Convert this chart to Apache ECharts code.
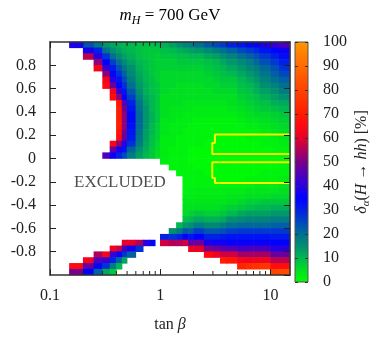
<!DOCTYPE html>
<html>
<head>
<meta charset="utf-8">
<script src="https://cdn.jsdelivr.net/npm/echarts@6/dist/echarts.min.js"></script>
<style>html,body{margin:0;padding:0;background:#fff}#chart{width:376px;height:338px}</style>
</head>
<body>
<div id="chart"></div>
<script>
const _ = null;
// cell edges: tan(beta) columns (log axis) and cos(beta-alpha) rows (top to bottom)
const tanbEdges = [0.15, 0.2, 0.25, 0.3, 0.35, 0.4, 0.45, 0.5, 0.6, 0.7, 0.8, 0.9, 1.0, 1.2, 1.4, 1.6, 1.8, 2.0, 2.5, 3.0, 3.5, 4.0, 5.0, 6.0, 7.0, 8.0, 10, 12, 15];
const cosEdges = [1, 0.95, 0.9, 0.85, 0.8, 0.75, 0.7, 0.65, 0.6, 0.55, 0.5, 0.45, 0.4, 0.35, 0.3, 0.25, 0.2, 0.15, 0.1, 0.05, 0,
  -0.05, -0.1, -0.15, -0.2, -0.25, -0.3, -0.35, -0.4, -0.45, -0.5, -0.55, -0.6, -0.65, -0.7, -0.75, -0.8, -0.85, -0.9, -0.95, -1];

// delta_alpha(H -> hh) in %, one row per cos band, null = excluded
const delta = [
  [38,24,19,14,12,11,10,10,9,9,9,10,11,13,15,17,18,20,23,25,27,30,32,34,36,39,42,45],
  [_,38,30,20,15,13,11,10,9,8,8,8,9,10,11,12,13,14,16,18,20,22,25,27,29,32,34,37],
  [_,56,40,28,20,16,13,11,9,8,8,7,8,8,9,9,10,10,12,13,15,17,20,22,24,27,30,33],
  [_,_,52,35,26,20,16,13,10,9,8,7,7,7,8,8,8,8,9,10,12,14,16,18,21,24,27,30],
  [_,_,63,42,31,24,19,15,11,9,8,7,7,7,7,7,7,7,8,9,10,12,14,16,18,21,24,28],
  [_,_,_,52,34,28,22,16,12,10,8,7,6,6,6,6,6,6,7,8,9,10,12,14,16,19,22,25],
  [_,_,_,63,40,32,25,18,13,10,9,7,6,6,6,6,6,6,6,7,8,8,10,12,14,17,20,22],
  [_,_,_,65,48,35,28,20,14,11,9,8,6,6,5,5,5,5,6,6,7,7,9,10,12,15,17,20],
  [_,_,_,_,62,42,32,23,15,11,9,8,6,5,5,5,5,5,5,6,6,6,8,9,11,13,15,18],
  [_,_,_,_,65,52,36,26,17,12,10,8,5,5,5,5,5,5,5,5,5,5,7,8,9,11,13,15],
  [_,_,_,_,_,68,45,30,19,13,10,8,5,5,5,4,4,4,4,4,4,5,6,7,8,9,11,12],
  [_,_,_,_,_,70,50,32,20,14,10,8,5,4,4,4,4,3,3,3,3,4,5,6,7,8,9,10],
  [_,_,_,_,_,70,52,34,21,14,11,8,5,4,4,3,3,3,3,3,3,3,4,5,6,6,7,8],
  [_,_,_,_,_,70,52,34,21,14,11,8,4,4,3,3,3,2,2,2,2,2,3,4,4,5,6,7],
  [_,_,_,_,_,70,52,33,21,14,10,7,4,3,3,3,2,2,2,2,2,2,2,3,3,4,5,6],
  [_,_,_,_,_,68,50,32,20,13,10,7,4,3,3,2,2,2,2,2,2,2,2,2,2,3,4,5],
  [_,_,_,_,_,66,48,31,19,13,9,7,3,3,2,2,2,2,2,1,1,1,1,2,2,2,3,4],
  [_,_,_,_,64,52,40,28,18,12,9,6,3,3,2,2,2,2,1,1,1,1,1,1,1,2,2,3],
  [_,_,_,_,48,38,32,22,15,11,8,6,3,2,2,2,1,1,1,1,1,1,1,1,1,1,2,2],
  [_,_,_,45,36,30,25,18,13,10,8,5,3,2,2,2,1,1,1,1,1,1,1,1,1,1,1,1],
  [_,_,_,_,_,_,_,_,_,_,_,_,3,2,2,2,1,1,1,1,1,1,1,1,1,1,1,1],
  [_,_,_,_,_,_,_,_,_,_,_,_,_,2,2,2,2,1,1,1,1,1,1,1,1,1,1,2],
  [_,_,_,_,_,_,_,_,_,_,_,_,_,_,2,2,2,2,1,1,1,1,1,1,1,2,2,2],
  [_,_,_,_,_,_,_,_,_,_,_,_,_,_,_,2,2,2,2,1,1,1,1,2,2,2,2,3],
  [_,_,_,_,_,_,_,_,_,_,_,_,_,_,_,2,2,2,2,2,2,2,2,2,3,3,3,4],
  [_,_,_,_,_,_,_,_,_,_,_,_,_,_,_,2,3,3,3,3,3,3,3,4,4,4,4,5],
  [_,_,_,_,_,_,_,_,_,_,_,_,_,_,_,3,3,3,3,3,3,4,4,5,5,5,6,6],
  [_,_,_,_,_,_,_,_,_,_,_,_,_,_,_,4,4,4,4,4,4,5,6,7,7,8,8,8],
  [_,_,_,_,_,_,_,_,_,_,_,_,_,_,_,5,5,5,5,5,6,7,8,9,10,10,11,11],
  [_,_,_,_,_,_,_,_,_,_,_,_,_,_,_,6,7,8,7,7,8,10,12,13,13,13,14,14],
  [_,_,_,_,_,_,_,_,_,_,_,_,_,_,_,9,10,12,11,11,12,15,16,17,17,17,18,18],
  [_,_,_,_,_,_,_,_,_,_,_,_,_,_,10,14,15,18,16,16,18,20,21,21,21,21,22,22],
  [_,_,_,_,_,_,_,_,_,_,_,_,_,15,18,23,22,26,23,23,24,26,27,27,27,27,27,27],
  [_,_,_,_,_,_,_,_,_,_,_,_,30,28,30,36,32,35,30,30,31,32,32,32,32,32,31,31],
  [_,_,_,_,_,_,60,60,55,40,34,_,58,55,55,58,46,48,38,37,37,36,36,36,36,36,35,35],
  [_,_,_,_,62,58,44,38,28,_,_,_,_,_,_,_,62,60,50,48,46,45,43,44,44,44,40,40],
  [_,_,55,63,42,36,28,22,_,_,_,_,_,_,_,_,_,_,65,62,58,58,54,54,54,54,48,48],
  [_,63,45,42,30,22,12,_,_,_,_,_,_,_,_,_,_,_,_,_,70,68,63,62,62,62,56,56],
  [65,48,34,28,18,10,_,_,_,_,_,_,_,_,_,_,_,_,_,_,_,_,72,74,75,76,66,66],
  [50,35,22,12,8,_,_,_,_,_,_,_,_,_,_,_,_,_,_,_,_,_,_,_,_,_,80,82]
];

// yellow contours (tan beta, cos)
const upperContourT = [15, 3.13, 3.13, 2.96, 2.96, 15];
const upperContourC = [0.205, 0.205, 0.133, 0.133, 0.039, 0.039];
const lowerContourT = [15, 2.96, 2.96, 3.13, 3.13, 15];
const lowerContourC = [-0.033, -0.033, -0.168, -0.168, -0.21, -0.21];

const xMajor = [0.1, 1, 10];
const xMinor = [0.2, 0.3, 0.4, 0.5, 0.6, 0.7, 0.8, 0.9, 2, 3, 4, 5, 6, 7, 8, 9];
const excludedAt = [0.43, -0.205];

// colour scale, 0..100 in steps of 5
const palette = ['#00ff00', '#00e020', '#00b850', '#009070', '#007090', '#0048c0', '#0020e8', '#0000ff', '#2800e0',
  '#5000b8', '#7a008c', '#b0005a', '#e80028', '#ff0810', '#ff1c00', '#ff3000', '#ff4400', '#ff5800', '#ff6c00', '#ff8000', '#ff9600'];

const serif = 'Liberation Serif';
const ink = '#222';

let cells = [];
delta.forEach((row, j) => {
    row.forEach((val, i) => {
        if (val !== _) {
            cells.push([tanbEdges[i], tanbEdges[i + 1], cosEdges[j], cosEdges[j + 1], val]);
        }
    });
});

const zip = (a, b) => a.map((v, i) => [v, b[i]]);

const rich = {
    r: { fontFamily: serif, fontSize: 16, color: ink },
    i: { fontFamily: serif, fontSize: 16, fontStyle: 'italic', color: ink },
    s: { fontFamily: serif, fontSize: 11, fontStyle: 'italic', color: ink, padding: [9, 0, 0, 0] },
};

let chart = echarts.init(document.getElementById('chart'), null, { renderer: 'canvas' });

const barGradient = new echarts.graphic.LinearGradient(0, 1, 0, 0,
    palette.map((c, k) => ({ offset: k / (palette.length - 1), color: c })));

const frameLine = { show: true, onZero: false, lineStyle: { color: '#333', width: 1.5 } };

let option = {
    animation: false,
    grid: [
        { left: 50, top: 42, width: 240, height: 240, show: false },
        { left: 295, top: 42, width: 13, height: 240, show: true, backgroundColor: barGradient, borderColor: '#555', borderWidth: 1 },
    ],
    graphic: [
        {
            type: 'text',
            x: 170,
            y: 5,
            style: {
                text: '{i|m}{s|H}{r| = 700 GeV}',
                align: 'center',
                rich: {
                    r: { fontFamily: serif, fontSize: 17, color: ink },
                    i: { fontFamily: serif, fontSize: 17, fontStyle: 'italic', color: ink },
                    s: { fontFamily: serif, fontSize: 12, fontStyle: 'italic', color: ink, padding: [10, 0, 0, 0] },
                },
            },
        },
    ],
    visualMap: {
        type: 'continuous',
        show: false,
        min: 0,
        max: 100,
        dimension: 4,
        seriesIndex: 0,
        inRange: { color: palette },
    },
    xAxis: [
        {
            gridIndex: 0,
            type: 'log',
            logBase: 10,
            min: 0.1,
            max: 15,
            position: 'bottom',
            z: 10,
            axisLine: frameLine,
            axisTick: { show: true, inside: true, length: 6, customValues: xMajor, lineStyle: { color: ink } },
            axisLabel: { customValues: xMajor, margin: 13, fontFamily: serif, fontSize: 16, color: ink, formatter: (v) => String(v) },
            splitLine: { show: false },
            name: '{r|tan }{i|β}',
            nameLocation: 'middle',
            nameGap: 42,
            nameTextStyle: { rich: rich },
        },
        {
            gridIndex: 0,
            type: 'log',
            logBase: 10,
            min: 0.1,
            max: 15,
            position: 'top',
            z: 10,
            axisLine: frameLine,
            axisTick: { show: true, inside: true, length: 6, customValues: xMajor, lineStyle: { color: ink } },
            axisLabel: { show: false },
            splitLine: { show: false },
        },
        { gridIndex: 1, type: 'value', min: 0, max: 1, show: false },
    ],
    yAxis: [
        {
            gridIndex: 0,
            type: 'value',
            min: -1,
            max: 1,
            interval: 0.2,
            position: 'left',
            z: 10,
            axisLine: frameLine,
            axisTick: { show: true, inside: true, length: 6, lineStyle: { color: ink } },
            axisLabel: { margin: 14, showMinLabel: false, showMaxLabel: false, fontFamily: serif, fontSize: 16, color: ink },
            splitLine: { show: false },
        },
        {
            gridIndex: 0,
            type: 'value',
            min: -1,
            max: 1,
            interval: 0.2,
            position: 'right',
            z: 10,
            axisLine: frameLine,
            axisTick: { show: true, inside: true, length: 6, lineStyle: { color: ink } },
            axisLabel: { show: false },
            splitLine: { show: false },
        },
        {
            gridIndex: 1,
            type: 'value',
            min: 0,
            max: 100,
            interval: 10,
            position: 'right',
            z: 10,
            axisLine: { show: false, onZero: false },
            axisTick: { show: true, inside: true, length: 3, lineStyle: { color: '#333' } },
            axisLabel: { margin: 15, fontFamily: serif, fontSize: 16, color: ink },
            splitLine: { show: false },
            name: '{i|δ}{s|α}{r|(}{i|H}{r| → }{i|hh}{r|) [%]}',
            nameLocation: 'middle',
            nameRotate: 90,
            nameGap: 44,
            nameTextStyle: { rich: rich },
        },
        {
            gridIndex: 1,
            type: 'value',
            min: 0,
            max: 100,
            interval: 10,
            position: 'left',
            z: 10,
            axisLine: { show: false, onZero: false },
            axisTick: { show: true, inside: true, length: 3, lineStyle: { color: '#333' } },
            axisLabel: { show: false },
            splitLine: { show: false },
        },
    ],
    series: [
        {
            type: 'custom',
            name: 'delta',
            xAxisIndex: 0,
            yAxisIndex: 0,
            data: cells,
            encode: { x: [0, 1], y: [2, 3] },
            renderItem: (params, api) => {
                let a = api.coord([api.value(0), api.value(2)]);
                let b = api.coord([api.value(1), api.value(3)]);
                return {
                    type: 'rect',
                    shape: { x: a[0] - 0.3, y: a[1] - 0.3, width: b[0] - a[0] + 0.6, height: b[1] - a[1] + 0.6 },
                    style: { fill: api.visual('color') },
                };
            },
            silent: true,
            z: 2,
        },
        {
            type: 'line',
            xAxisIndex: 0,
            yAxisIndex: 0,
            data: zip(upperContourT, upperContourC),
            symbol: 'none',
            lineStyle: { color: '#f4f400', width: 2 },
            silent: true,
            z: 4,
        },
        {
            type: 'line',
            xAxisIndex: 0,
            yAxisIndex: 0,
            data: zip(lowerContourT, lowerContourC),
            symbol: 'none',
            lineStyle: { color: '#f4f400', width: 2 },
            silent: true,
            z: 4,
        },
        {
            // minor log ticks, bottom and top
            type: 'custom',
            xAxisIndex: 0,
            yAxisIndex: 0,
            data: xMinor.map((t) => [t, 0]),
            renderItem: (params, api) => {
                let p = api.coord([api.value(0), 0]);
                let cs = params.coordSys;
                let bottom = cs.y + cs.height;
                return {
                    type: 'group',
                    children: [
                        { type: 'line', shape: { x1: p[0], y1: bottom, x2: p[0], y2: bottom - 4 }, style: { stroke: ink, lineWidth: 1 } },
                        { type: 'line', shape: { x1: p[0], y1: cs.y, x2: p[0], y2: cs.y + 4 }, style: { stroke: ink, lineWidth: 1 } },
                    ],
                };
            },
            silent: true,
            z: 6,
        },
        {
            type: 'scatter',
            xAxisIndex: 0,
            yAxisIndex: 0,
            data: [excludedAt],
            symbolSize: 0,
            label: { show: true, position: 'inside', formatter: 'EXCLUDED', fontFamily: serif, fontSize: 17, color: ink },
            silent: true,
            z: 6,
        },
    ],
};
chart.setOption(option);
</script>
</body>
</html>
